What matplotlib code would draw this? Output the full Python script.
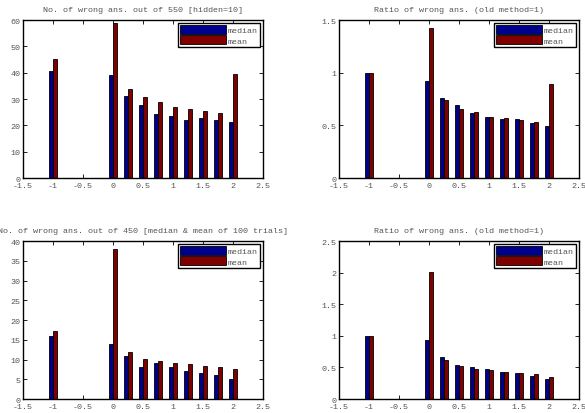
import numpy as np
import matplotlib
matplotlib.use('Agg')
import matplotlib.pyplot as plt

x = [-1, 0, 0.25, 0.5, 0.75, 1, 1.25, 1.5, 1.75, 2]

# top left: number wrong out of 550
med_550 = [40.8, 39.2, 31.1, 27.7, 24.2, 23.7, 22.2, 22.8, 22.2, 21.1]
mean_550 = [45.2, 58.9, 33.8, 30.6, 28.9, 26.8, 26.3, 25.3, 24.7, 39.5]
# top right: ratio
med_r1 = [1.0, 0.92, 0.76, 0.69, 0.62, 0.58, 0.565, 0.56, 0.52, 0.49]
mean_r1 = [1.0, 1.42, 0.745, 0.66, 0.625, 0.575, 0.57, 0.555, 0.535, 0.895]
# bottom left: number wrong out of 450
med_450 = [16, 14, 11, 8, 9, 8, 7, 6.5, 6, 5]
mean_450 = [17.3, 38.0, 12.0, 10.2, 9.5, 9.2, 8.8, 8.3, 8.0, 7.5]
# bottom right: ratio
med_r2 = [1.0, 0.93, 0.67, 0.535, 0.505, 0.47, 0.435, 0.405, 0.37, 0.31]
mean_r2 = [1.0, 2.01, 0.625, 0.52, 0.47, 0.465, 0.435, 0.405, 0.39, 0.345]

titles = ['No. of wrong ans. out of 550 [hidden=10]',
          'Ratio of wrong ans. (old method=1)',
          'No. of wrong ans. out of 450 [median & mean of 100 trials]',
          'Ratio of wrong ans. (old method=1)']
ylims = [60, 1.5, 40, 2.5]
yticks = [np.arange(0, 61, 10), [0, 0.5, 1, 1.5],
          np.arange(0, 41, 5), [0, 0.5, 1, 1.5, 2, 2.5]]
data = [(med_550, mean_550), (med_r1, mean_r1), (med_450, mean_450), (med_r2, mean_r2)]

plt.rcParams['font.family'] = 'Liberation Mono'
grey = '#555555'

fig = plt.figure(figsize=(5.85, 4.14), dpi=100)
positions = [[0.0393, 0.5676, 0.410, 0.3816],
             [0.5795, 0.5676, 0.410, 0.3816],
             [0.0393, 0.0338, 0.410, 0.3816],
             [0.5795, 0.0338, 0.410, 0.3816]]

w = 0.068
xs = np.array(x)
for i in range(4):
    ax = fig.add_axes(positions[i])
    med, mean = data[i]
    ax.bar(xs - w / 2, med, w, color='#00008f', edgecolor='black', linewidth=0.6, label='median')
    ax.bar(xs + w / 2, mean, w, color='#800000', edgecolor='black', linewidth=0.6, label='mean')
    ax.set_xlim(-1.5, 2.5)
    ax.set_ylim(0, ylims[i])
    ax.set_xticks([-1.5, -1, -0.5, 0, 0.5, 1, 1.5, 2, 2.5])
    ax.set_xticklabels(['-1.5', '-1', '-0.5', '0', '0.5', '1', '1.5', '2', '2.5'])
    ax.set_yticks(yticks[i])
    ax.set_yticklabels(['%g' % v for v in yticks[i]])
    ax.tick_params(direction='in', length=3, width=0.6, top=True, right=True,
                   labelsize=6, labelcolor=grey)
    ax.tick_params(axis='x', pad=3)
    ax.tick_params(axis='y', pad=2)
    for s in ax.spines.values():
        s.set_linewidth(1.0)
    ax.set_title(titles[i], fontsize=6, color=grey, pad=6.5)
    leg = ax.legend(loc='upper right', fontsize=6, fancybox=False, framealpha=1,
                    handlelength=5.5, handleheight=1.3, handletextpad=0.2,
                    borderpad=0.3, labelspacing=0.1, borderaxespad=0.3)
    leg.get_frame().set_edgecolor('black')
    leg.get_frame().set_linewidth(1.0)
    for t in leg.get_texts():
        t.set_color(grey)

fig.savefig('out.png', dpi=100)
